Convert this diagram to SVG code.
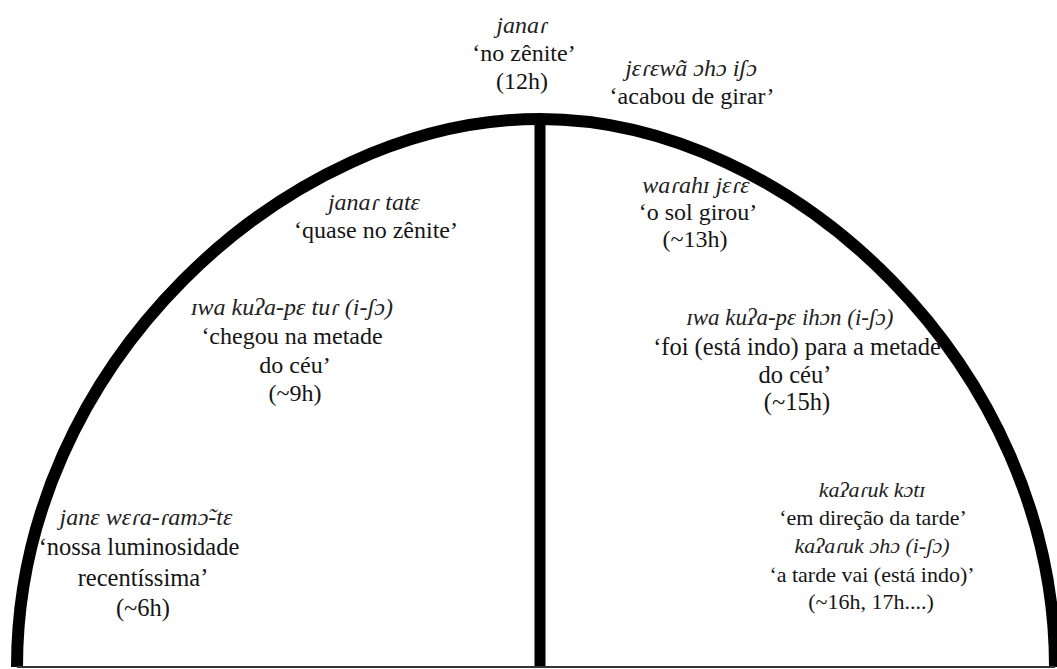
<svg xmlns="http://www.w3.org/2000/svg" width="1057" height="669" viewBox="0 0 1057 669">
<style>
text{font-family:"Liberation Serif","Times New Roman","DejaVu Serif",serif;font-size:24px;fill:#151515;text-anchor:middle}
.i{font-style:italic;fill:#222}
#foi text{font-size:24.5px}
#foi .i{font-size:23px}
#luminosidade text{font-size:24.5px}
#luminosidade .i{font-size:24px}
#tarde text{font-size:22px}
#tarde .i{font-size:22px}
</style>
<rect width="1057" height="669" fill="#fff"/>
<g id="connectors">
<path d="M17,667 C17,367 285,119 540,119 C791,119 1055,367 1055,667" fill="none" stroke="#000" stroke-width="12"/>
<line x1="540" y1="119" x2="540" y2="667" stroke="#000" stroke-width="11"/>
<line x1="17" y1="667" x2="1055" y2="667" stroke="#333" stroke-width="2"/>
</g>
<g id="zenith">
<text class="i" x="522" y="33">janaɾ</text>
<text x="524" y="61">‘no zênite’</text>
<text x="522" y="89">(12h)</text>
</g>
<g id="acabou">
<text class="i" x="691" y="76">jɛɾɛwã ɔhɔ iʃɔ</text>
<text x="692" y="104">‘acabou de girar’</text>
</g>
<g id="quase">
<text class="i" x="374" y="210">janaɾ tatɛ</text>
<text x="376" y="238">‘quase no zênite’</text>
</g>
<g id="chegou">
<text class="i" x="292" y="315">ɪwa kuʔa-pɛ tuɾ (i-ʃɔ)</text>
<text x="292" y="344">‘chegou na metade</text>
<text x="295" y="373">do céu’</text>
<text x="295" y="401">(~9h)</text>
</g>
<g id="girou">
<text class="i" x="696" y="193">waɾahɪ jɛɾɛ</text>
<text x="698" y="220">‘o sol girou’</text>
<text x="695" y="247">(~13h)</text>
</g>
<g id="foi">
<text class="i" x="790" y="325">ɪwa kuʔa-pɛ ihɔn (i-ʃɔ)</text>
<text x="797" y="355">‘foi (está indo) para a metade</text>
<text x="795" y="383">do céu’</text>
<text x="797" y="410">(~15h)</text>
</g>
<g id="luminosidade">
<text class="i" x="146" y="525">janɛ wɛɾa-ɾamɔ̃-tɛ</text>
<text x="139" y="555">‘nossa luminosidade</text>
<text x="143" y="586">recentíssima’</text>
<text x="143" y="616">(~6h)</text>
</g>
<g id="tarde">
<text class="i" x="872" y="497">kaʔaɾuk kɔtɪ</text>
<text x="873" y="525">‘em direção da tarde’</text>
<text class="i" x="872" y="553">kaʔaɾuk ɔhɔ (i-ʃɔ)</text>
<text x="872" y="582">‘a tarde vai (está indo)’</text>
<text x="871" y="609">(~16h, 17h....)</text>
</g>
</svg>
